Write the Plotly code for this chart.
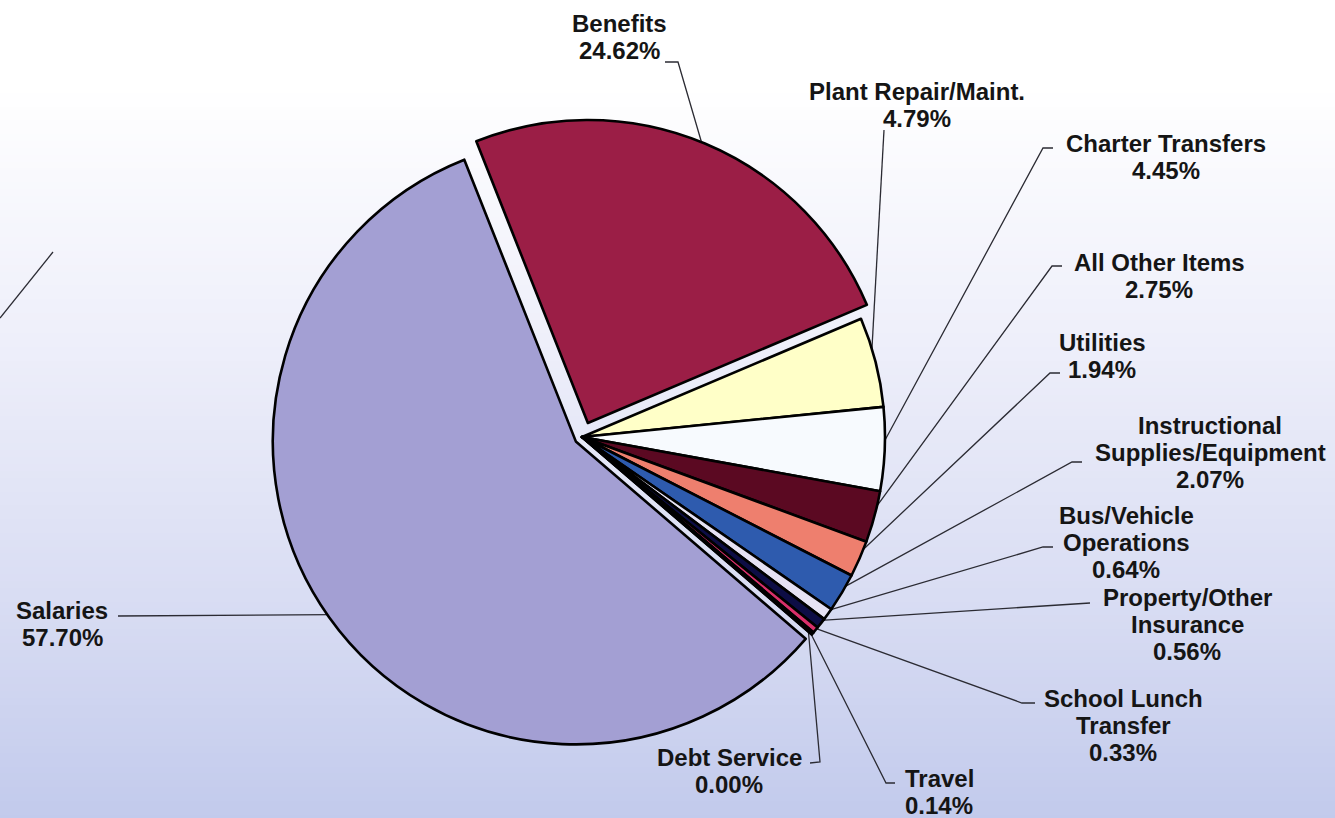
import numpy as np
import plotly.graph_objects as go

W, H = 1335, 818

# ---- data -------------------------------------------------------------
categories = [
    "Benefits", "Plant Repair/Maint.", "Charter Transfers", "All Other Items",
    "Utilities", "Instructional Supplies/Equipment", "Bus/Vehicle Operations",
    "Property/Other Insurance", "School Lunch Transfer", "Travel",
    "Debt Service", "Salaries",
]
shares = [24.62, 4.79, 4.45, 2.75, 1.94, 2.07, 0.64, 0.56, 0.33, 0.14, 0.00, 57.70]

# label wording, one list entry per printed line (percentage added below)
label_lines = [
    ["Benefits"], ["Plant Repair/Maint."], ["Charter Transfers"], ["All Other Items"],
    ["Utilities"], ["Instructional", "Supplies/Equipment"], ["Bus/Vehicle", "Operations"],
    ["Property/Other", "Insurance"], ["School Lunch", "Transfer"], ["Travel"],
    ["Debt Service"], ["Salaries"],
]

# ---- styling ----------------------------------------------------------
slice_colors = [
    "#9B1E46", "#FFFFC8", "#F7FAFE", "#5B0922", "#EE7F6E", "#2E5BAE",
    "#E6E2F4", "#0D0D45", "#D8306A", "#2A1848", "#101030", "#A39FD3",
]
pulls = [0.05, 0, 0, 0, 0, 0, 0, 0, 0, 0, 0, 0.025]

CX, CY, R = 582.0, 437.0, 303.0      # pie centre / radius in pixels
ROTATION = -21.6                      # start angle of the first slice
FONT = "Liberation Sans, Arial, Helvetica, sans-serif"
FSIZE = 24
LINE_GAP = 27

# text block placement (centre x, centre y of first line) and leader elbows
label_pos = [
    (619, 23.5), (917, 91.5), (1166, 143), (1159, 262.5), (1102, 342.5),
    (1210, 425.5), (1126, 515), (1187, 597.5), (1123, 698), (939, 778),
    (729, 757.5), (62, 610),
]
leader_anchor = [
    [(665, 62), (678, 62)],
    [(884, 130)],
    [(1053, 148), (1043, 148)],
    [(1062, 266), (1052, 266)],
    [(1060, 373), (1050, 373)],
    [(1082, 462), (1072, 462)],
    [(1053, 547), (1043, 547)],
    [(1090, 603)],
    [(1035, 703), (1022, 703)],
    [(895, 783), (886, 783)],
    [(810, 763), (820, 762)],
    [(118, 616)],
]

fig = go.Figure()

# background wash: white at the top fading to a soft periwinkle
ny = 120
ys = np.linspace(0, H, ny)
t = ys / H
zs = np.clip((t - 0.1) / 0.9, 0, 1)
fig.add_trace(go.Heatmap(
    x=[0, W], y=ys, z=np.column_stack([zs, zs]),
    colorscale=[[0.0, "#FFFFFF"], [0.35, "#EEEFFA"], [0.7, "#D9DDF3"], [1.0, "#C2CAEC"]],
    zmin=0, zmax=1, showscale=False, hoverinfo="skip",
))

# leader lines from the labels to the slice edges
total = sum(shares)
start = ROTATION
for i, v in enumerate(shares):
    span = 360.0 * v / total
    mid = np.radians(start + span / 2)
    start += span
    dist = R * 0.985 + pulls[i] * R
    sx = CX + dist * np.sin(mid)
    sy = CY - dist * np.cos(mid)
    pts = leader_anchor[i] + [(sx, sy)]
    fig.add_trace(go.Scatter(
        x=[p[0] for p in pts], y=[p[1] for p in pts], mode="lines",
        line=dict(color="#2B2B33", width=1.3), hoverinfo="skip", showlegend=False,
    ))

# stray connector at the far left edge
fig.add_trace(go.Scatter(
    x=[53, 0], y=[252, 318], mode="lines",
    line=dict(color="#2B2B33", width=1.3), hoverinfo="skip", showlegend=False,
))

# the pie itself
half = R * (1 + max(pulls))
fig.add_trace(go.Pie(
    labels=categories, values=shares, sort=False, direction="clockwise",
    rotation=ROTATION, pull=pulls, textinfo="none", hoverinfo="label+percent",
    marker=dict(colors=slice_colors, line=dict(color="#000000", width=2.6)),
    domain=dict(x=[(CX - half) / W, (CX + half) / W],
                y=[1 - (CY + half) / H, 1 - (CY - half) / H]),
    showlegend=False,
))

# labels
annotations = []
for i, v in enumerate(shares):
    lines = label_lines[i] + [f"{v:.2f}%"]
    x0, y0 = label_pos[i]
    for k, txt in enumerate(lines):
        annotations.append(dict(
            x=x0, y=y0 + k * LINE_GAP, xref="x", yref="y", text=f"<b>{txt}</b>",
            showarrow=False, xanchor="center", yanchor="middle",
            font=dict(family=FONT, size=FSIZE, color="#151515"),
        ))

fig.update_layout(
    width=W, height=H, margin=dict(l=0, r=0, t=0, b=0),
    paper_bgcolor="#FFFFFF", plot_bgcolor="#FFFFFF",
    xaxis=dict(range=[0, W], visible=False, fixedrange=True, domain=[0, 1]),
    yaxis=dict(range=[H, 0], visible=False, fixedrange=True, domain=[0, 1]),
    annotations=annotations, showlegend=False,
)

fig.write_html("out.html")
